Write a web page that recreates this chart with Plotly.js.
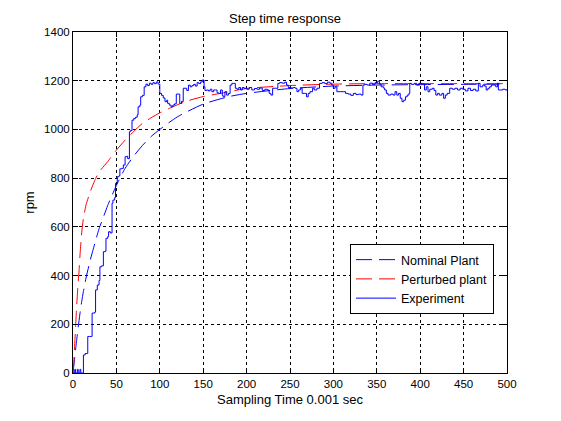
<!DOCTYPE html>
<html>
<head>
<meta charset="utf-8">
<script src="https://cdn.plot.ly/plotly-3.0.1.min.js"></script>
<style>html,body{margin:0;padding:0;background:#fff;}#chart{width:561px;height:421px;}</style>
</head>
<body>
<div id="chart"></div>
<script>
// Nominal plant (blue dashed)
const nominalT = [0,2,4,6,8,10,12,15,20,25,30,35,40,45,50,60,70,80,90,100,120,150,180,200,250,300,350,400,450,500];
const nominalV = [0,65,128,188,243,293,335,390,465,530,592,640,688,730,770,840,891,934,971,1000,1051,1104,1135,1148,1168,1178,1182,1184,1185,1186];

// Perturbed plant (red dashed)
const perturbedT = [0,1,2,3,4,5,6,7,8,10,12,15,20,25,30,40,50,60,70,80,90,100,115,130,150,170,200,250,300,350,400,450,500];
const perturbedV = [0,45,120,190,260,320,375,420,480,575,635,690,745,790,825,868,915,956,992,1025,1048,1068,1093,1115,1135,1148,1168,1180,1186,1188,1188,1188,1188];

// Experiment (blue solid)
const experimentT = [0,2,3,5,6,8,9,11,12,14,16,17,19,21,22,24,25,26,28,30,31,33,35,37,38,40,41,43,45,46,48,49,51,53,54,56,58,60,62,63,65,66,68,70,72,74,75,77,78,80,82,84,86,88,90,92,94,96,98,100,102,104,106,108,109,111,113,115,117,119,121,123,125,127,129,131,133,135,137,139,141,143,145,147,149,151,152,154,156,158,160,162,164,166,168,170,172,173,175,177,179,181,183,185,187,189,191,193,195,197,200,203,206,209,212,215,218,221,224,226,228,230,233,236,238,241,244,246,248,251,254,256,258,260,262,264,267,269,271,273,276,278,281,284,287,290,293,296,298,300,302,304,308,312,314,317,320,323,326,329,332,334,336,339,342,345,348,351,353,355,358,359,361,363,366,369,371,373,375,377,379,381,383,385,387,388,390,393,396,399,402,405,407,409,411,414,416,418,420,422,425,427,429,431,434,437,440,443,446,449,452,455,458,461,464,467,469,472,474,476,478,480,482,484,487,489,490,492,495,498,500];
const experimentV = [0,15,0,15,0,15,0,0,74,80,80,150,150,150,246,246,250,341,361,380,436,440,498,500,553,560,580,575,697,710,720,779,806,810,838,840,854,888,890,880,990,995,1038,1045,1050,1060,1093,1100,1134,1140,1175,1186,1180,1190,1185,1192,1188,1195,1186,1148,1140,1129,1114,1120,1107,1100,1093,1100,1105,1145,1145,1107,1115,1169,1169,1160,1182,1175,1180,1185,1178,1192,1188,1195,1203,1175,1160,1162,1158,1165,1155,1162,1162,1150,1148,1162,1140,1134,1155,1141,1148,1182,1189,1189,1169,1165,1172,1162,1172,1169,1165,1172,1162,1168,1165,1170,1160,1165,1162,1148,1141,1169,1169,1189,1192,1190,1194,1182,1172,1170,1172,1169,1155,1162,1169,1148,1148,1134,1148,1155,1169,1162,1169,1189,1192,1188,1194,1190,1182,1169,1175,1155,1155,1155,1148,1145,1140,1148,1143,1145,1141,1182,1185,1182,1190,1185,1192,1198,1186,1175,1169,1162,1148,1141,1145,1141,1155,1141,1148,1128,1114,1120,1134,1141,1148,1189,1185,1189,1182,1189,1186,1162,1175,1155,1165,1169,1160,1141,1148,1141,1148,1128,1141,1148,1169,1165,1169,1162,1169,1165,1158,1169,1160,1165,1158,1189,1175,1182,1178,1162,1169,1175,1182,1182,1175,1190,1162,1162,1165,1162,1165];

const xTicks = [0,50,100,150,200,250,300,350,400,450,500];
const yTicks = [0,200,400,600,800,1000,1200,1400];

const FONT = '"Liberation Sans", Arial, Helvetica, sans-serif';

const traces = [
  {x: nominalT, y: nominalV, type: 'scatter', mode: 'lines', name: 'Nominal Plant',
   line: {color: '#0000ff', width: 1, dash: '16px,7px', shape: 'spline', smoothing: 0.6}},
  {x: perturbedT, y: perturbedV, type: 'scatter', mode: 'lines', name: 'Perturbed plant',
   line: {color: '#ff0000', width: 1, dash: '16px,7px', shape: 'spline', smoothing: 0.6}},
  {x: experimentT, y: experimentV, type: 'scatter', mode: 'lines', name: 'Experiment',
   line: {color: '#0000ff', width: 1, shape: 'hv'}}
];

const axisCommon = {
  showline: true, linecolor: '#000', linewidth: 1, mirror: 'ticks',
  ticks: 'inside', ticklen: 5, tickcolor: '#000', tickwidth: 1,
  showgrid: true, gridcolor: '#000', gridwidth: 1, griddash: '3px,3px',
  zeroline: false, tickfont: {family: FONT, size: 11.5, color: '#000'}
};

const layout = {
  width: 561, height: 421,
  paper_bgcolor: '#fff', plot_bgcolor: '#fff',
  margin: {l: 73, r: 54, t: 32, b: 48},
  font: {family: FONT, size: 13, color: '#000'},
  title: {text: 'Step time response', font: {family: FONT, size: 13, color: '#000'},
          x: 285/561, xanchor: 'center', y: 1 - 18/421, yanchor: 'middle'},
  xaxis: Object.assign({}, axisCommon, {
    range: [0, 500], tickvals: xTicks, ticktext: xTicks.map(String),
    title: {text: 'Sampling Time 0.001 sec', font: {family: FONT, size: 13, color: '#000'}, standoff: 6}
  }),
  yaxis: Object.assign({}, axisCommon, {
    range: [0, 1400], tickvals: yTicks, ticktext: yTicks.map(String),
    title: {text: 'rpm', font: {family: FONT, size: 13, color: '#000'}, standoff: 6}
  }),
  showlegend: true,
  legend: {x: (350-73)/434, xanchor: 'left', y: (373-244)/341, yanchor: 'top',
           bgcolor: '#fff', bordercolor: '#000', borderwidth: 1, itemwidth: 40,
           font: {family: FONT, size: 12.5, color: '#000'}, tracegroupgap: 0}
};

Plotly.newPlot('chart', traces, layout, {staticPlot: true, displayModeBar: false});
</script>
</body>
</html>
